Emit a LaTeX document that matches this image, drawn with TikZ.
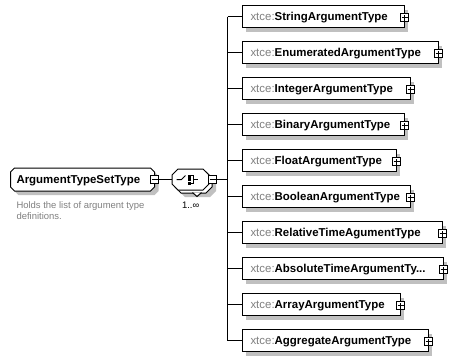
\documentclass[tikz,border=0pt]{standalone}
\usepackage{fontspec}
\setmainfont{Liberation Sans}
\usetikzlibrary{shadows}

\definecolor{shadowc}{HTML}{C0C0C0}
\definecolor{prefixc}{HTML}{808080}
\definecolor{notec}{HTML}{808080}

% chamfered outline built on the anchors of a plain node:
% #1 node, #2 chamfer width, #3 chamfer height
\newcommand\chamferpath[3]{%
  ([xshift=#2]#1.north west) -- ([xshift=-#2]#1.north east) --
  ([yshift=-#3]#1.north east) -- ([yshift=#3]#1.south east) --
  ([xshift=-#2]#1.south east) -- ([xshift=#2]#1.south west) --
  ([yshift=#3]#1.south west) -- ([yshift=-#3]#1.north west) -- cycle}
\newcommand\tydots{...}

\begin{document}
\begin{tikzpicture}[x=1bp, y=-1bp, line width=1bp,
  anchorbox/.style={draw=none, inner sep=0pt},
  typebox/.style={draw=black, fill=white, minimum height=22bp, inner sep=0pt,
    anchor=west,
    general shadow={fill=shadowc, shadow xshift=4bp, shadow yshift=-4bp}},
  namefont/.style={font=\fontsize{11.5}{13}\selectfont},
  typename/.style={namefont, anchor=base west, inner sep=0pt},
  smallfont/.style={font=\fontsize{9.5}{11}\selectfont},
  togglebox/.style={draw=black, fill=white, minimum size=8bp, inner sep=0pt},
  expander/.style={togglebox, path picture={
    \draw[line width=1bp]
      ([xshift=-3bp]path picture bounding box.center) --
      ([xshift=3bp]path picture bounding box.center)
      ([yshift=-3bp]path picture bounding box.center) --
      ([yshift=3bp]path picture bounding box.center);}},
  collapser/.style={togglebox, path picture={
    \draw[line width=1bp]
      ([xshift=-3bp]path picture bounding box.center) --
      ([xshift=3bp]path picture bounding box.center);}},
]
\useasboundingbox (0,0) rectangle (457,362);

% ---- root complex type ----
\node[anchorbox, minimum width=143bp, minimum height=22bp, anchor=west]
  (main) at (10.5,179.5) {};
\fill[shadowc, transform canvas={shift={(4bp,-4bp)}}] \chamferpath{main}{4bp}{4bp};
\draw[fill=white] \chamferpath{main}{4bp}{4bp};
\node[typename] (mainlabel) at (16,183.5) {\textbf{ArgumentTypeSetType}};
\node[smallfont, text=notec, align=left, anchor=north west, inner sep=0pt]
  (note) at (16,201) {Holds the list of argument type\\definitions.};

% ---- sequence compositor (1..unbounded) ----
\node[anchorbox, minimum width=36bp, minimum height=20bp] (seqback) at (193.5,182.5) {};
\node[anchorbox, minimum width=36bp, minimum height=20bp] (seq) at (190.5,179.5) {};
\fill[shadowc, transform canvas={shift={(4bp,-4bp)}}] \chamferpath{seqback}{6bp}{6bp};
\draw[fill=white] \chamferpath{seqback}{6bp}{6bp};
\coordinate (vtip) at (197,196.5);
\draw[fill=white, line join=miter] ([shift={(-4.5bp,4bp)}]vtip) -- (vtip) -- ([shift={(4.5bp,4bp)}]vtip);
\draw[fill=white] \chamferpath{seq}{6bp}{6bp};
\begin{scope}[shift={(seq.center)}]
  \draw (-14,0) -- (-9,0) -- (-5,-4);
  \fill (-3,-5) rectangle (0,-2);
  \fill (-3,-1.5) rectangle (0,1.5);
  \fill (-3,2) rectangle (0,5);
  \draw (0,-4) -- (3,-4) -- (3,4) -- (0,4);
  \draw (3,0) -- (7.5,0);
\end{scope}
\node[smallfont, anchor=base west, inner sep=0pt] (occurs) at (181.5,208) {1..∞};

% ---- toggles and connectors on the left ----
\node[collapser] (m1) at (154.5,179.5) {};
\node[collapser] (m2) at (212.5,179.5) {};
\coordinate (bus) at (227.5,179.5);
\draw (m1.east) -- (seq.west);
\draw (m2.east) -- (bus);

% ---- choice of argument types ----
\foreach \yc/\rx/\nm [count=\i] in {
    16.5/403.5/StringArgumentType,
    52.5/437.5/EnumeratedArgumentType,
    88.5/409.5/IntegerArgumentType,
    124.5/403.5/BinaryArgumentType,
    160.5/395.5/FloatArgumentType,
    196.5/409.5/BooleanArgumentType,
    232.5/441.5/RelativeTimeAgumentType,
    268.5/442.5/AbsoluteTimeArgumentTy\tydots,
    304.5/399.5/ArrayArgumentType,
    340.5/427.5/AggregateArgumentType} {
  \node[typebox, minimum width={(\rx-241.5)*1bp}] (b\i) at (241.5,\yc) {};
  \node[typename] (t\i) at (250,\yc+4) {\textcolor{prefixc}{xtce:}\textbf{\nm}};
  \node[expander, yshift=-1bp] (p\i) at (b\i.east) {};
  \draw (bus |- b\i.west) -- (b\i.west);
}
\draw (bus |- b1.west) -- (bus |- b10.west);
\end{tikzpicture}
\end{document}
